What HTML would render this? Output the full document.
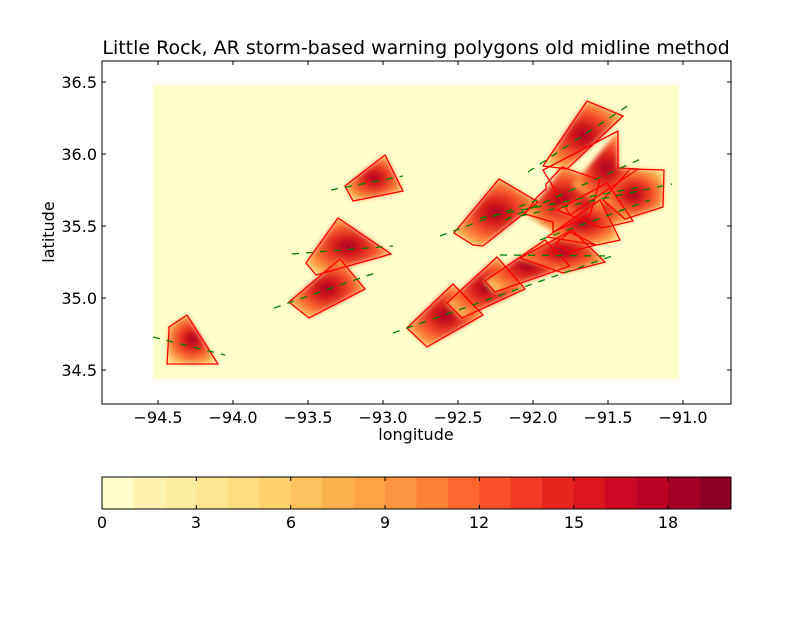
<!DOCTYPE html>
<html><head><meta charset="utf-8"><style>
html,body{margin:0;padding:0;background:#fff}
svg text{font-family:"DejaVu Sans","Liberation Sans",sans-serif;fill:#000}
</style></head><body>
<svg width="812" height="612" viewBox="0 0 812 612" xmlns="http://www.w3.org/2000/svg">
<defs>
<radialGradient id="g" cx="50%" cy="50%" r="60%">
<stop offset="0" stop-color="#a50026"/>
<stop offset="0.25" stop-color="#d7191c"/>
<stop offset="0.55" stop-color="#f6582c"/>
<stop offset="0.8" stop-color="#fd9a45"/>
<stop offset="1" stop-color="#fed476"/>
</radialGradient>
<filter id="b" x="-20%" y="-20%" width="140%" height="140%"><feGaussianBlur stdDeviation="2.5"/></filter>
<clipPath id="ax"><rect x="102" y="61" width="629" height="343"/></clipPath>
</defs>
<text x="416" y="54" font-size="19" text-anchor="middle">Little Rock, AR storm-based warning polygons old midline method</text>
<rect x="102" y="61" width="629" height="343" fill="#fff"/>
<rect x="153" y="85" width="526" height="294" fill="#ffffcc"/>
<g clip-path="url(#ax)">
<g filter="url(#b)" fill="url(#g)">
<polygon points="169,327 187,315 218,364 167,364"/>
<polygon points="345,186 385,155 403,191 353,201"/>
<polygon points="306,263 338,218 391,254 316,275"/>
<polygon points="289,302 340,259 365,289 309,318"/>
<polygon points="543,166 587,101 623,116 567,169"/>
<polygon points="454,233 499,179 538,202 483,246 473,245"/>
<polygon points="525,214 547,189 562,167 600,180 590,215 553,232"/>
<polygon points="407,328 453,284 483,315 427,347"/>
<polygon points="447,303 497,257 525,289 462,318"/>
<polygon points="485,281 545,240 570,266 495,292"/>
<polygon points="520,258 572,230 605,262 563,273"/>
<polygon points="557,210 607,183 633,221 602,228"/>
<polygon points="573,185 618,131 618,168 638,169 600,205"/>
<polygon points="603,200 630,169 664,170 663,207 625,219"/>
<polygon points="547,237 600,200 620,240 597,245"/>
</g>
<g fill="none" stroke="#ff0000" stroke-width="1.3">
<polygon points="169,327 187,315 218,364 167,364 169,331"/>
<polygon points="345,186 385,155 403,191 353,201"/>
<polygon points="306,263 338,218 391,254 316,275"/>
<polygon points="289,302 340,259 365,289 309,318"/>
<polygon points="543,166 587,101 623,116 567,169"/>
<polygon points="454,233 499,179 538,202 483,246 473,245"/>
<polygon points="525,214 537,197 546,189 546,184 562,167 600,180 590,215 553,232 553,222"/>
<polygon points="407,328 453,284 483,315 427,347"/>
<polygon points="447,303 497,257 525,289 462,318"/>
<polygon points="485,281 545,240 570,266 495,292"/>
<polygon points="520,258 572,230 605,262 563,273"/>
<polygon points="557,210 607,183 633,221 602,228"/>
<polygon points="543,170 618,131 618,168 638,169 570,215"/>
<polygon points="603,200 630,169 664,170 663,207 625,219"/>
<polygon points="547,237 600,200 620,240 597,245"/>
<polygon points="556,243 570,232 596,245 568,252"/>
</g>
<g stroke="#008000" stroke-width="1.3" stroke-dasharray="7,7" fill="none">
<line x1="153" y1="337" x2="225" y2="355"/>
<line x1="331" y1="190" x2="403" y2="176"/>
<line x1="292" y1="254" x2="393" y2="246"/>
<line x1="274" y1="308" x2="375" y2="273"/>
<line x1="528" y1="172" x2="629" y2="105"/>
<line x1="440" y1="236" x2="537" y2="200"/>
<line x1="393" y1="333" x2="612" y2="256"/>
<line x1="505" y1="220" x2="645" y2="157"/>
<line x1="520" y1="216" x2="672" y2="184"/>
<line x1="540" y1="240" x2="650" y2="200"/>
<line x1="500" y1="255" x2="612" y2="256"/>
<line x1="480" y1="218" x2="640" y2="187"/>
</g>
</g>
<rect x="102" y="61" width="629" height="343" fill="none" stroke="#000" stroke-width="1"/>
<g stroke="#000" stroke-width="1">
<path d="M158,404v-4M233,404v-4M308,404v-4M383,404v-4M458,404v-4M533,404v-4M608,404v-4M683,404v-4"/>
<path d="M158,61v4M233,61v4M308,61v4M383,61v4M458,61v4M533,61v4M608,61v4M683,61v4"/>
<path d="M102,82h4M102,154h4M102,226h4M102,298h4M102,370h4"/>
<path d="M731,82h-4M731,154h-4M731,226h-4M731,298h-4M731,370h-4"/>
</g>
<g font-size="16" text-anchor="middle">
<text x="158" y="423">−94.5</text><text x="233" y="423">−94.0</text><text x="308" y="423">−93.5</text><text x="383" y="423">−93.0</text><text x="458" y="423">−92.5</text><text x="533" y="423">−92.0</text><text x="608" y="423">−91.5</text><text x="683" y="423">−91.0</text>
</g>
<g font-size="16" text-anchor="end">
<text x="97" y="88">36.5</text><text x="97" y="160">36.0</text><text x="97" y="232">35.5</text><text x="97" y="304">35.0</text><text x="97" y="376">34.5</text>
</g>
<text x="416" y="440" font-size="16" text-anchor="middle">longitude</text>
<text x="54" y="232" font-size="16" text-anchor="middle" transform="rotate(-90 54 232)">latitude</text>
<g>
<rect x="102" y="477" width="32" height="32" fill="#ffffcc"/>
<rect x="133.45" y="477" width="32" height="32" fill="#fff3b0"/>
<rect x="164.9" y="477" width="32" height="32" fill="#ffeda0"/>
<rect x="196.35" y="477" width="32" height="32" fill="#ffe592"/>
<rect x="227.8" y="477" width="32" height="32" fill="#fedd80"/>
<rect x="259.25" y="477" width="32" height="32" fill="#fed16e"/>
<rect x="290.7" y="477" width="32" height="32" fill="#fec15d"/>
<rect x="322.15" y="477" width="32" height="32" fill="#feb24c"/>
<rect x="353.6" y="477" width="32" height="32" fill="#fea345"/>
<rect x="385.05" y="477" width="32" height="32" fill="#fd943f"/>
<rect x="416.5" y="477" width="32" height="32" fill="#fd8037"/>
<rect x="447.95" y="477" width="32" height="32" fill="#fc672f"/>
<rect x="479.4" y="477" width="32" height="32" fill="#fc4e2a"/>
<rect x="510.85" y="477" width="32" height="32" fill="#f23924"/>
<rect x="542.3" y="477" width="32" height="32" fill="#e8241f"/>
<rect x="573.75" y="477" width="32" height="32" fill="#dc151e"/>
<rect x="605.2" y="477" width="32" height="32" fill="#cc0822"/>
<rect x="636.65" y="477" width="32" height="32" fill="#bd0026"/>
<rect x="668.1" y="477" width="32" height="32" fill="#a50026"/>
<rect x="699.55" y="477" width="31.45" height="32" fill="#8c0026"/>
</g>
<rect x="102" y="477" width="629" height="32" fill="none" stroke="#000" stroke-width="1"/>
<g stroke="#000" stroke-width="1">
<path d="M196.35,477v4M290.7,477v4M385.05,477v4M479.4,477v4M573.75,477v4M668.1,477v4"/>
<path d="M196.35,509v-4M290.7,509v-4M385.05,509v-4M479.4,509v-4M573.75,509v-4M668.1,509v-4"/>
</g>
<g font-size="16" text-anchor="middle">
<text x="102" y="528">0</text><text x="196" y="528">3</text><text x="291" y="528">6</text><text x="385" y="528">9</text><text x="479" y="528">12</text><text x="574" y="528">15</text><text x="668" y="528">18</text>
</g>
</svg>
</body></html>
